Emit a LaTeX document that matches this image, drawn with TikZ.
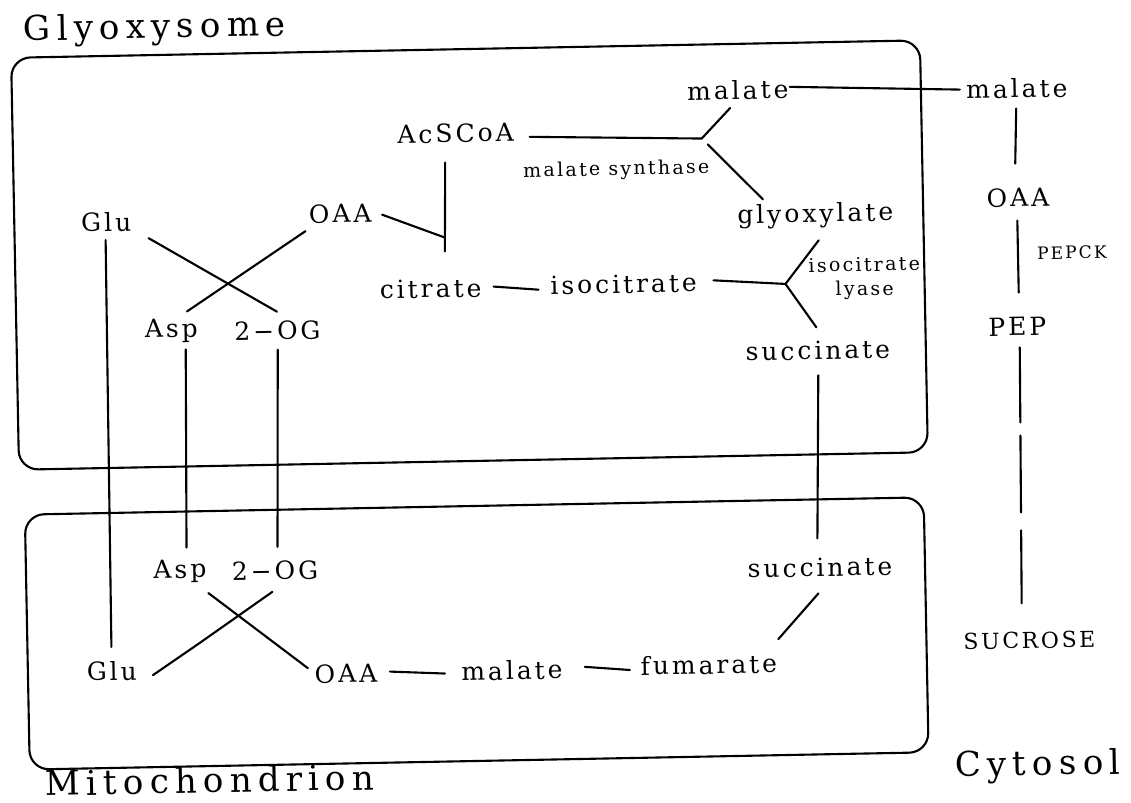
\documentclass[tikz,border=0pt]{standalone}
\usepackage{fontspec}
\setmainfont{DejaVu Serif}[LetterSpace=12]
\newfontfamily\headfont{DejaVu Serif}[LetterSpace=18]
\usetikzlibrary{calc}
\begin{document}
\begin{tikzpicture}[x=0.02cm, y=-0.02cm, line width=1.2pt, line cap=round,
  mol/.style={inner sep=0pt, font=\fontsize{14.2}{17}\selectfont},
  enzyme/.style={inner sep=0pt, align=center, font=\fontsize{10.8}{13.7}\selectfont},
  smallcaps/.style={inner sep=0pt, font=\fontsize{9.7}{12}\selectfont},
  sugar/.style={inner sep=0pt, font=\fontsize{12.5}{15}\selectfont},
  heading/.style={inner sep=0pt, font=\headfont\fontsize{19.4}{23}\selectfont},
  compartment/.style={rounded corners=11pt}]
\useasboundingbox (0,0) rectangle (1131,803);
% the whole sheet sits slightly tilted
\begin{scope}[rotate=1.1, transform shape]
  % compartments
  \draw[compartment] (10,58) rectangle (919,470);
  \draw[compartment] (15,515) rectangle (914,770);
  \node[heading] (glyt) at (154,32) {Glyoxysome};
  \node[heading] (mitot) at (195,784) {Mitochondrion};
  \node[heading] (cytt) at (1023,786) {Cytosol};

  % glyoxysome
  \node[mol] (mal1) at (736,104) {malate};
  \node[mol] (acs) at (453,142) {AcSCoA};
  \node[enzyme] (ms) at (613,182) {malate synthase};
  \node[mol] (glx) at (811,231) {glyoxylate};
  \node[mol] (oaa1) at (336,220) {OAA};
  \node[mol] (glu1) at (102,224) {Glu};
  \node[mol] (cit) at (425,297) {citrate};
  \node[mol] (icit) at (618,296) {isocitrate};
  \node[enzyme] (il) at (859,295) {isocitrate\\lyase};
  \node[mol] (asp1) at (165,334) {Asp};
  \node[mol] (og1) at (271,336) {2−OG};
  \node[mol] (suc1) at (811,366) {succinate};

  % cytosol
  \node[mol] (mal2) at (1015,108) {malate};
  \node[mol] (oaa2) at (1014,217) {OAA};
  \node[smallcaps] (pepck) at (1067,273) {PEPCK};
  \node[mol] (pep) at (1011,346) {PEP};
  \node[sugar] (sucr) at (1017,660) {SUCROSE};

  % mitochondrion
  \node[mol] (asp2) at (169,575) {Asp};
  \node[mol] (og2) at (264,576) {2−OG};
  \node[mol] (glu2) at (99,673) {Glu};
  \node[mol] (oaa3) at (333,680) {OAA};
  \node[mol] (mal3) at (499,680) {malate};
  \node[mol] (fum) at (696,678) {fumarate};
  \node[mol] (suc2) at (809,583) {succinate};

  % junctions
  \coordinate (j1) at ($(ms.center)+(86,-30)$);
  \coordinate (cj) at ($(cit.center)+(15,-51)$);
  \coordinate (j2) at ($(il.center)+(-79,4)$);
  \coordinate (kink) at ($(glu2.center)+(88,-26)$);

  % glyoxysome reactions
  \draw ($(mal1.center)+(52,-2)$) -- ($(mal2.center)+(-57,0)$);
  \draw ($(acs.center)+(74,5)$) -- (j1) -- ($(mal1.center)+(-8,18)$);
  \draw ($(j1)+(6,6)$) -- ($(glx.center)+(-52,-17)$);
  \draw ($(acs.center)+(-11,29)$) -- ($(cit.center)+(15,-37)$);
  \draw ($(oaa1.center)+(42,2)$) -- (cj);
  \draw ($(glu1.center)+(42,17)$) -- ($(og1.center)+(0,-19)$);
  \draw ($(oaa1.center)+(-35,17)$) -- ($(asp1.center)+(16,-19)$);
  \draw ($(cit.center)+(63,-1)$) -- ($(icit.center)+(-85,4)$);
  \draw ($(icit.center)+(90,-2)$) -- (j2) -- ($(glx.center)+(3,25)$);
  \draw (j2) -- ($(suc1.center)+(-1,-23)$);

  % transport between compartments
  \draw ($(glu1.center)+(-1,18)$) -- ($(glu2.center)+(0,-24)$);
  \draw ($(asp1.center)+(14,19)$) -- ($(asp2.center)+(7,-24)$);
  \draw ($(og1.center)+(0,19)$) -- ($(og2.center)+(3,-24)$);
  \draw ($(suc1.center)+(0,25)$) -- ($(suc2.center)+(-2,-29)$);

  % mitochondrion reactions
  \draw ($(asp2.center)+(28,22)$) -- ($(oaa3.center)+(-38,-6)$);
  \draw ($(og2.center)+(-3,21)$) -- (kink) -- ($(glu2.center)+(41,5)$);
  \draw ($(oaa3.center)+(44,-1)$) -- ($(mal3.center)+(-67,2)$);
  \draw ($(mal3.center)+(73,-2)$) -- ($(fum.center)+(-79,4)$);
  \draw ($(suc2.center)+(-2,26)$) -- ($(fum.center)+(70,-24)$);

  % gluconeogenesis in the cytosol
  \draw ($(mal2.center)+(-1,20)$) -- ($(oaa2.center)+(-2,-34)$);
  \draw ($(oaa2.center)+(-1,23)$) -- ($(pep.center)+(2,-34)$);
  \draw[dash pattern=on 42.7pt off 7.4pt on 43.8pt off 10.2pt on 41.5pt off 20pt]
    ($(pep.center)+(2,21)$) -- ($(sucr.center)+(-7,-37)$);
\end{scope}
\end{tikzpicture}
\end{document}
